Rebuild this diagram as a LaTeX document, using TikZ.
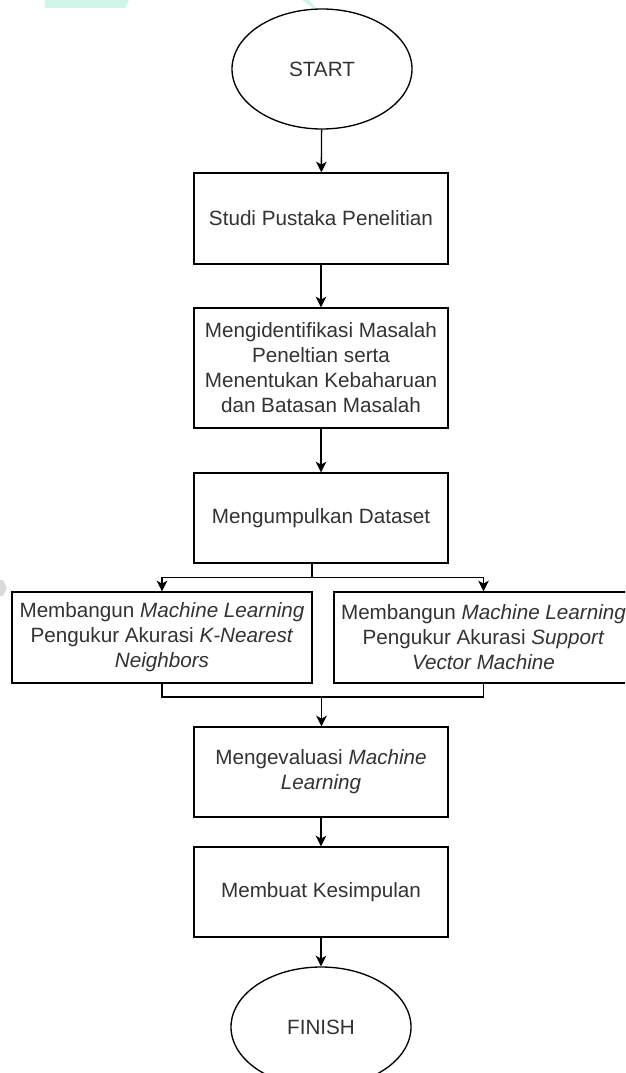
\documentclass[tikz,border=0pt]{standalone}
\usepackage{fontspec}
\setmainfont{Liberation Sans}
\usetikzlibrary{shapes.geometric,arrows.meta}
\definecolor{txt}{HTML}{333333}
\definecolor{wmteal}{HTML}{CFF5E9}
\definecolor{wmgray}{HTML}{DADADA}
\tikzset{
  box/.style={draw=black, line width=1pt, rectangle, minimum width=190.5pt, minimum height=67.5pt,
    align=center, inner sep=2pt, text=txt, font=\fontsize{15.5pt}{18.75pt}\selectfont},
  term/.style={draw=black, line width=1pt, ellipse, minimum width=135pt, minimum height=90pt,
    inner sep=0pt, text=txt, font=\fontsize{15.5pt}{18.75pt}\selectfont},
  arr/.style={draw=black, line width=1pt, -{Stealth[length=8pt,width=8pt,inset=2.2pt]}},
  link/.style={draw=black, line width=1pt}
}
\begin{document}
\begin{tikzpicture}[x=0.75pt,y=-0.75pt]
\useasboundingbox (0,0) rectangle (625,1073);
\clip (0,0) rectangle (625,1073);
\fill[white] (0,0) rectangle (625,1073);
% watermark remnants
\fill[wmteal] (45,0) -- (129,0) -- (125,8) -- (45,8) -- cycle;
\fill[wmteal] (302,0) -- (309,0) -- (316,8) -- (313,8) -- cycle;
\fill[wmgray] (0,580) -- (3,580) -- (7,588) -- (3,596) -- (0,596) -- cycle;

\node[term] (start) at (322,69) {START};
\node[box, minimum height=68.25pt] (studi) at (321,218.5) {Studi Pustaka Penelitian};
\node[box, minimum height=90pt] (ident) at (321,368) {Mengidentifikasi Masalah\\Peneltian serta\\Menentukan Kebaharuan\\dan Batasan Masalah};
\node[box] (kumpul) at (321,518) {Mengumpulkan Dataset};
\node[box, minimum width=225pt, minimum height=68.25pt] (knn) at (162,637.5) {Membangun \textit{Machine Learning}\\Pengukur Akurasi \textit{K-Nearest}\\\textit{Neighbors}};
\node[box, minimum width=224.25pt, minimum height=68.25pt] (svm) at (483.5,637.5) {Membangun \textit{Machine Learning}\\Pengukur Akurasi \textit{Support}\\\textit{Vector Machine}};
\node[box] (eval) at (321,772) {Mengevaluasi \textit{Machine}\\\textit{Learning}};
\node[box] (simp) at (321,892) {Membuat Kesimpulan};
\node[term] (finish) at (321,1027) {FINISH};

\coordinate (split) at (312,577.5);
\coordinate (join) at (321.5,697);

\draw[arr] (start) -- (studi);
\draw[arr] (studi) -- (ident);
\draw[arr] (ident) -- (kumpul);
\draw[link] (kumpul.south -| split) -- (split);
\draw[arr] (split) -| (knn.north);
\draw[arr] (split) -| (svm.north);
\draw[link] (knn.south) |- (join);
\draw[link] (svm.south) |- (join);
\draw[arr] (join) -- (eval.north -| join);
\draw[arr] (eval) -- (simp);
\draw[arr] (simp) -- (finish);
\end{tikzpicture}
\end{document}
